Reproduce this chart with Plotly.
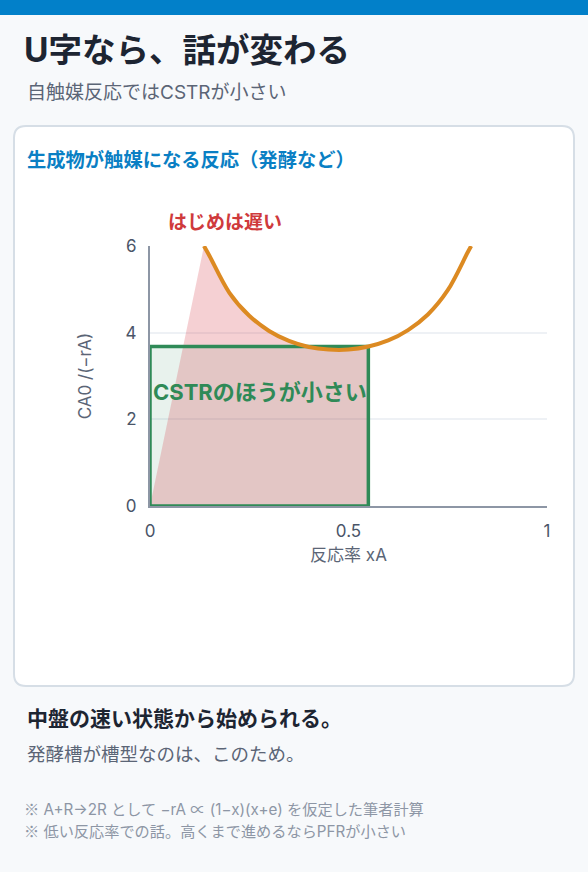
import plotly.graph_objects as go

# 読み取った曲線 CA0/(-rA) vs xA（y=6 で切れている）
curve_x = [0.136, 0.15, 0.2, 0.25, 0.3, 0.35, 0.4, 0.45, 0.5, 0.55, 0.6, 0.65, 0.7, 0.75, 0.8, 0.809]
curve_y = [6.0, 5.77, 4.92, 4.39, 4.04, 3.81, 3.67, 3.61, 3.61, 3.68, 3.82, 4.06, 4.42, 4.98, 5.85, 6.0]

# CSTR の長方形（出口反応率と高さ）
cstr_x = 0.55
cstr_y = 3.68

x_ticks = [0, 0.5, 1]
x_ticklabels = ["0", "0.5", "1"]
y_ticks = [0, 2, 4, 6]

W, H = 588, 872
FONT = "Inter, Noto Sans CJK JP"
MARK = "<span style='font-family:Noto Sans CJK JP'>※</span>"


def px(x):
    return x / W


def py(y):
    return 1 - y / H


fig = go.Figure()

# CSTR fill
fig.add_trace(go.Scatter(
    x=[0, cstr_x, cstr_x, 0, 0], y=[0, 0, cstr_y, cstr_y, 0],
    mode="lines", fill="toself", fillcolor="rgba(46,139,87,0.11)",
    line=dict(width=0), hoverinfo="skip", showlegend=False))

# PFR area (pink)
pfr_x = [0] + [v for v in curve_x if v <= cstr_x] + [cstr_x]
pfr_y = [0] + [curve_y[i] for i, v in enumerate(curve_x) if v <= cstr_x] + [0]
fig.add_trace(go.Scatter(
    x=pfr_x, y=pfr_y, mode="lines", fill="toself",
    fillcolor="rgba(214,60,72,0.24)", line=dict(width=0),
    hoverinfo="skip", showlegend=False))

# CSTR outline
fig.add_trace(go.Scatter(
    x=[0, cstr_x, cstr_x, 0, 0], y=[0, 0, cstr_y, cstr_y, 0],
    mode="lines", line=dict(color="#2f8a57", width=3.5),
    hoverinfo="skip", showlegend=False))

# curve
fig.add_trace(go.Scatter(
    x=curve_x, y=curve_y, mode="lines",
    line=dict(color="#dc8a22", width=4, shape="spline"),
    hoverinfo="skip", showlegend=False))

shapes = [
    dict(type="rect", xref="paper", yref="paper", x0=0, x1=1, y0=py(15), y1=1,
         fillcolor="#0280c9", line=dict(width=0), layer="below"),
]
# rounded card
l, r, t, b = px(14), px(574), py(126), py(686)
rx, ry = 12 / W, 12 / H
path = (f"M {l+rx},{t} L {r-rx},{t} Q {r},{t} {r},{t-ry} L {r},{b+ry} Q {r},{b} {r-rx},{b} "
        f"L {l+rx},{b} Q {l},{b} {l},{b+ry} L {l},{t-ry} Q {l},{t} {l+rx},{t} Z")
shapes.append(dict(type="path", xref="paper", yref="paper", path=path,
                   fillcolor="white", line=dict(color="#d6dee6", width=2), layer="below"))

annotations = [
    dict(text="<b>U字なら、話が変わる</b>", x=px(22), y=py(50), font=dict(size=33.5, color="#1d2532")),
    dict(text="自触媒反応ではCSTRが小さい", x=px(25), y=py(92), font=dict(size=19, color="#5b6576")),
    dict(text="<b>生成物が触媒になる反応（発酵など）</b>", x=px(25), y=py(160), font=dict(size=19.3, color="#0a7fc4")),
    dict(text="<b>中盤の速い状態から始められる。</b>", x=px(25), y=py(718), font=dict(size=21, color="#1d2532")),
    dict(text="発酵槽が槽型なのは、このため。", x=px(25), y=py(754), font=dict(size=18.5, color="#5b6576")),
    dict(text=MARK + " A+R→2R として −rA ∝ (1−x)(x+e) を仮定した筆者計算", x=px(22), y=py(808),
         font=dict(size=15.2, color="#8d96a5")),
    dict(text=MARK + " 低い反応率での話。高くまで進めるならPFRが小さい", x=px(22), y=py(830),
         font=dict(size=15.2, color="#8d96a5")),
]
for a in annotations:
    a.update(xref="paper", yref="paper", xanchor="left", yanchor="middle", showarrow=False)

annotations += [
    dict(text="<b>はじめは遅い</b>", x=0.19, y=1 + 37 / 260, xref="x", yref="y domain", showarrow=False,
         font=dict(size=19, color="#cf3a3c")),
    dict(text="<b>CSTRのほうが小さい</b>", x=0.276, y=2.63, xref="x", yref="y", showarrow=False,
         font=dict(size=22, color="#2f8a57")),
]

fig.update_layout(
    width=W, height=H,
    margin=dict(l=0, r=0, t=0, b=0, pad=0),
    paper_bgcolor="#f7f9fb", plot_bgcolor="rgba(0,0,0,0)",
    font=dict(family=FONT, color="#4a5568"),
    shapes=shapes, annotations=annotations,
    xaxis=dict(domain=[px(150), px(547)], range=[0, 1], tickvals=x_ticks, ticktext=x_ticklabels,
               automargin=False, ticklabelstandoff=9,
               showgrid=False, zeroline=False, showline=True, linecolor="#8d96a5", linewidth=2,
               ticks="", tickfont=dict(size=17, color="#4a5568"),
               title=dict(text="反応率 xA", font=dict(size=17, color="#5b6576"), standoff=9)),
    yaxis=dict(domain=[py(506), py(246)], range=[0, 6], tickvals=y_ticks,
               automargin=False, ticklabelstandoff=8,
               showgrid=True, gridcolor="#eef1f5", gridwidth=1.5, zeroline=False,
               showline=True, linecolor="#8d96a5", linewidth=2, ticks="",
               tickfont=dict(size=17, color="#4a5568"),
               title=dict(text="CA0 /(−rA)", font=dict(size=17, color="#5b6576"), standoff=30)),
)

fig.write_html("out.html", config={"displayModeBar": False},
               post_script="document.body.style.margin='0';")
